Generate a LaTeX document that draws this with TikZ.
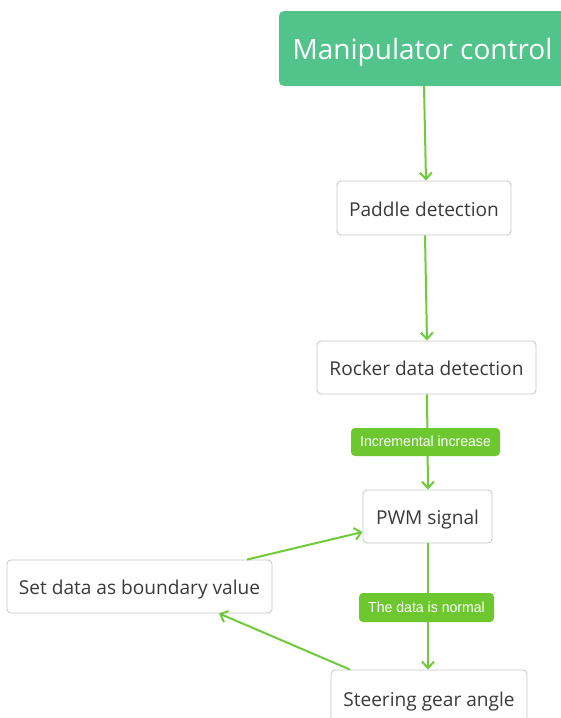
\documentclass[tikz,border=0pt]{standalone}
\usepackage{fontspec}
\setmainfont{Open Sans}
\newfontfamily\labfont{Liberation Sans}
\usetikzlibrary{arrows.meta}
\definecolor{titlegreen}{HTML}{52C38B}
\definecolor{linkgreen}{HTML}{6FCB3A}
\definecolor{taggreen}{HTML}{6CC82E}
\definecolor{boxline}{HTML}{C9C9C9}
\definecolor{boxtext}{HTML}{3A3A3A}
\tikzset{
  stepbox/.style={draw=boxline, line width=0.9pt, rounded corners=4pt, fill=white,
    text=boxtext, inner sep=0pt, text height=16pt, text depth=0pt,
    font=\fontsize{19.1}{23}\selectfont},
  titlebox/.style={fill=titlegreen, rounded corners=5pt, text=white, inner sep=0pt,
    text height=22pt, text depth=0pt, font=\fontsize{28}{32}\selectfont},
  tagbox/.style={fill=taggreen, rounded corners=4pt, text=white, inner sep=0pt,
    text height=9.6pt, text depth=0pt, font=\labfont\fontsize{14.6}{17}\selectfont},
  link/.style={draw=linkgreen, line width=2pt,
    -{Straight Barb[length=6.5pt,width=12pt,line width=2pt]}}
}
\begin{document}
\begin{tikzpicture}[x=1pt,y=-1pt]
\path[use as bounding box, clip] (0,0) rectangle (561,718);
\fill[white] (0,0) rectangle (561,718);

% process steps
\node[titlebox, minimum width=287pt, minimum height=75pt] (mc) at (422.5,48.5) {Manipulator control};
\node[stepbox, minimum width=174pt, minimum height=54pt] (pd) at (424,208) {Paddle detection};
\node[stepbox, minimum width=219pt, minimum height=53pt] (rdd) at (426.5,367.5) {Rocker data detection};
\node[stepbox, minimum width=129pt, minimum height=53pt] (pwm) at (427.5,516.5) {PWM signal};
\node[stepbox, minimum width=265pt, minimum height=53pt] (sd) at (139.5,586.5) {Set data as boundary value};
\node[stepbox, minimum width=196pt, minimum height=56pt] (sg) at (429,698) {Steering gear angle};

% connectors
\draw[link] ([xshift=1.5pt]mc.south) -- ([xshift=2pt]pd.north);
\draw[link] ([xshift=1pt]pd.south) -- ([xshift=0.5pt]rdd.north);
\draw[link] ([xshift=0.5pt]rdd.south) -- ([xshift=0.5pt]pwm.north);
\draw[link] ([xshift=0.5pt]pwm.south) -- ([xshift=-1pt]sg.north);
\draw[link] ([xshift=107.5pt]sd.north) -- ([yshift=-15.5pt]pwm.west);
\draw[link] ([xshift=-79pt]sg.north) -- ([xshift=79.5pt]sd.south);

% condition tags on the links
\node[tagbox, minimum width=149pt, minimum height=28pt] (inc) at (425.5,442) {\scalebox{0.965}[1]{Incremental increase}};
\node[tagbox, minimum width=135pt, minimum height=29pt] (norm) at (426.5,607.5) {\scalebox{0.965}[1]{The data is normal}};
\end{tikzpicture}
\end{document}
